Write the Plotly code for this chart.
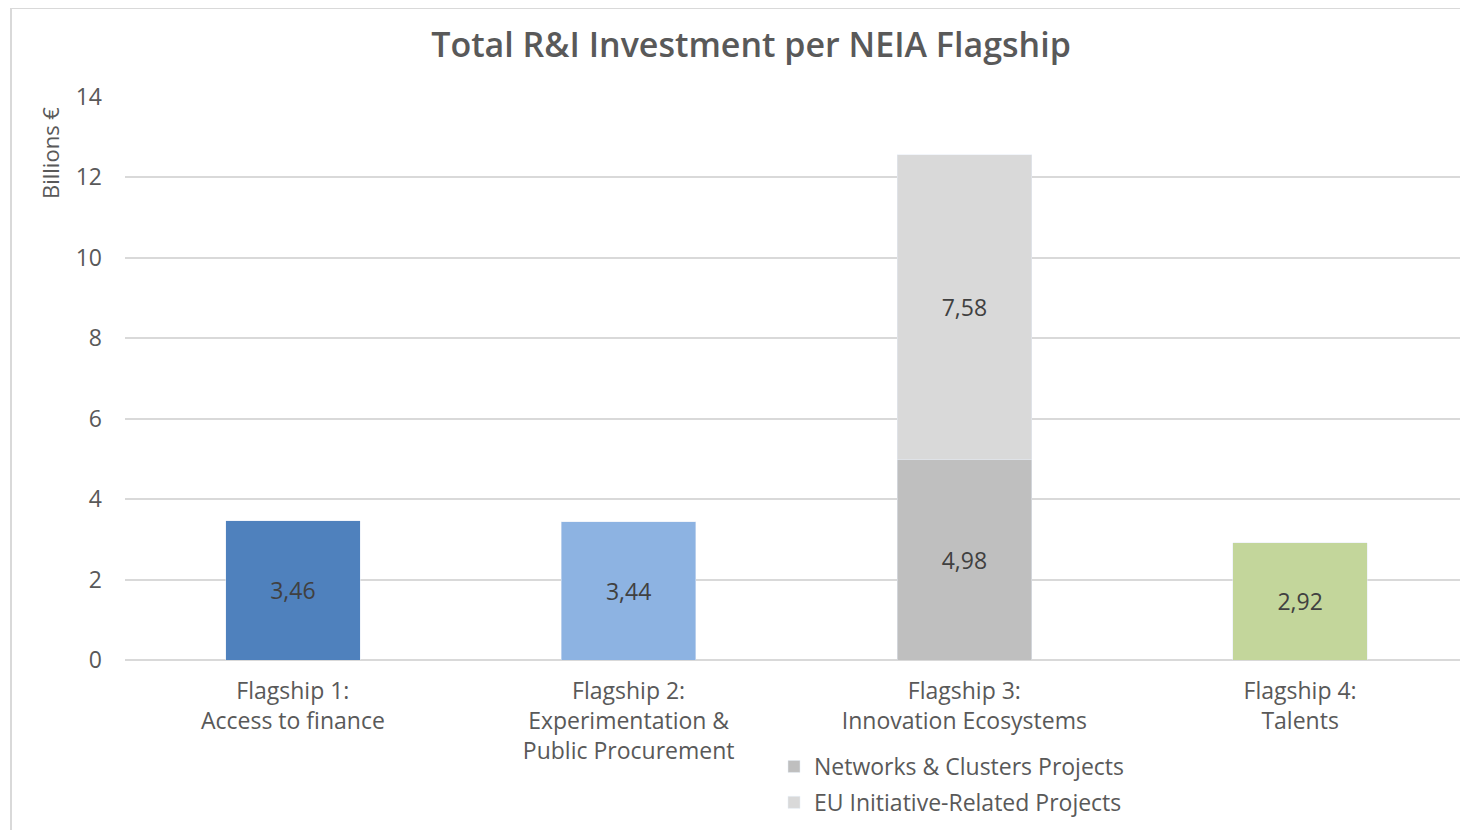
import plotly.graph_objects as go

categories = ["Flagship 1:<br>Access to finance",
              "Flagship 2:<br>Experimentation &<br>Public Procurement",
              "Flagship 3:<br>Innovation Ecosystems",
              "Flagship 4:<br>Talents"]
single_cats = [categories[0], categories[1], categories[3]]
single_vals = [3.46, 3.44, 2.92]
single_colors = ["#4f81bd", "#8db3e2", "#c3d69b"]
networks_vals = [4.98]
eu_vals = [7.58]
y_ticks = [0, 2, 4, 6, 8, 10, 12, 14]

FONT = "Open Sans"
TXT = "#595959"
LBL = "#404040"

# the page body has an 8px margin: work in page pixels, convert to figure pixels
OFF = 8
W, H = 1468 - OFF, 830 - OFF
L, R, T = 125 - OFF, 0, 97 - OFF
B = H - (660 - OFF)
pw, ph = W - L - R, H - T - B


def px_x(px):  # page pixel -> paper x
    return (px - OFF - L) / pw


def px_y(py):  # page pixel -> paper y
    return ((660 - OFF) - (py - OFF)) / ph


lbl_font = dict(size=23, color=LBL, family=FONT)

fig = go.Figure()
fig.add_trace(go.Bar(x=single_cats, y=single_vals, marker_color=single_colors,
                     showlegend=False, texttemplate="%{y:.2f}", textposition="inside",
                     insidetextanchor="middle", textfont=lbl_font, hoverinfo="skip"))
fig.add_trace(go.Bar(x=[categories[2]], y=networks_vals, name="Networks & Clusters Projects",
                     legendgroup="a", marker_color="#bfbfbf", texttemplate="%{y:.2f}",
                     textposition="inside", insidetextanchor="middle", textfont=lbl_font))
fig.add_trace(go.Bar(x=[categories[2]], y=eu_vals, name="EU Initiative-Related Projects",
                     legendgroup="b", marker_color="#d9d9d9", texttemplate="%{y:.2f}",
                     textposition="inside", insidetextanchor="middle", textfont=lbl_font))

fig.update_layout(
    width=W, height=H, barmode="stack", bargap=0.6,
    separators=",.",
    paper_bgcolor="white", plot_bgcolor="white",
    font=dict(family=FONT, color=TXT, size=23),
    margin=dict(l=L, r=R, t=T, b=B),
    title=dict(text="Total R&I Investment per NEIA Flagship", x=(751 - OFF) / W, xanchor="center",
               y=1 - (45 - OFF) / H, yanchor="middle",
               font=dict(size=34, color=TXT, family=FONT, weight=600)),
    xaxis=dict(categoryorder="array", categoryarray=categories, range=[-0.5, 3.5],
               showgrid=False, showline=False, ticks="", ticklabelstandoff=15,
               tickfont=dict(size=23, color=TXT)),
    yaxis=dict(range=[0, 14], tickvals=y_ticks, showgrid=True, gridcolor="#d9d9d9", gridwidth=1.5,
               zeroline=True, zerolinecolor="#d9d9d9", zerolinewidth=1.5,
               ticklabelstandoff=22, tickfont=dict(size=23, color=TXT)),
    legend=dict(x=px_x(774), y=px_y(745), xanchor="left", yanchor="top",
                orientation="v", font=dict(size=23, color=TXT), itemwidth=30,
                traceorder="grouped", tracegroupgap=3, bgcolor="rgba(0,0,0,0)"),
    annotations=[dict(text="Billions €", textangle=-90, xref="paper", yref="paper",
                      x=px_x(50), y=px_y(153), xanchor="center", yanchor="middle",
                      showarrow=False, font=dict(size=22, color=TXT, family=FONT))],
    shapes=[dict(type="rect", xref="paper", yref="paper",
                 x0=px_x(11), x1=px_x(1475),
                 y0=px_y(840), y1=px_y(8),
                 line=dict(color="#d9d9d9", width=2), fillcolor="rgba(0,0,0,0)", layer="below")],
)

fig.write_html("out.html",
               post_script="document.documentElement.style.overflow='hidden';"
                           "document.body.style.overflow='hidden';")
